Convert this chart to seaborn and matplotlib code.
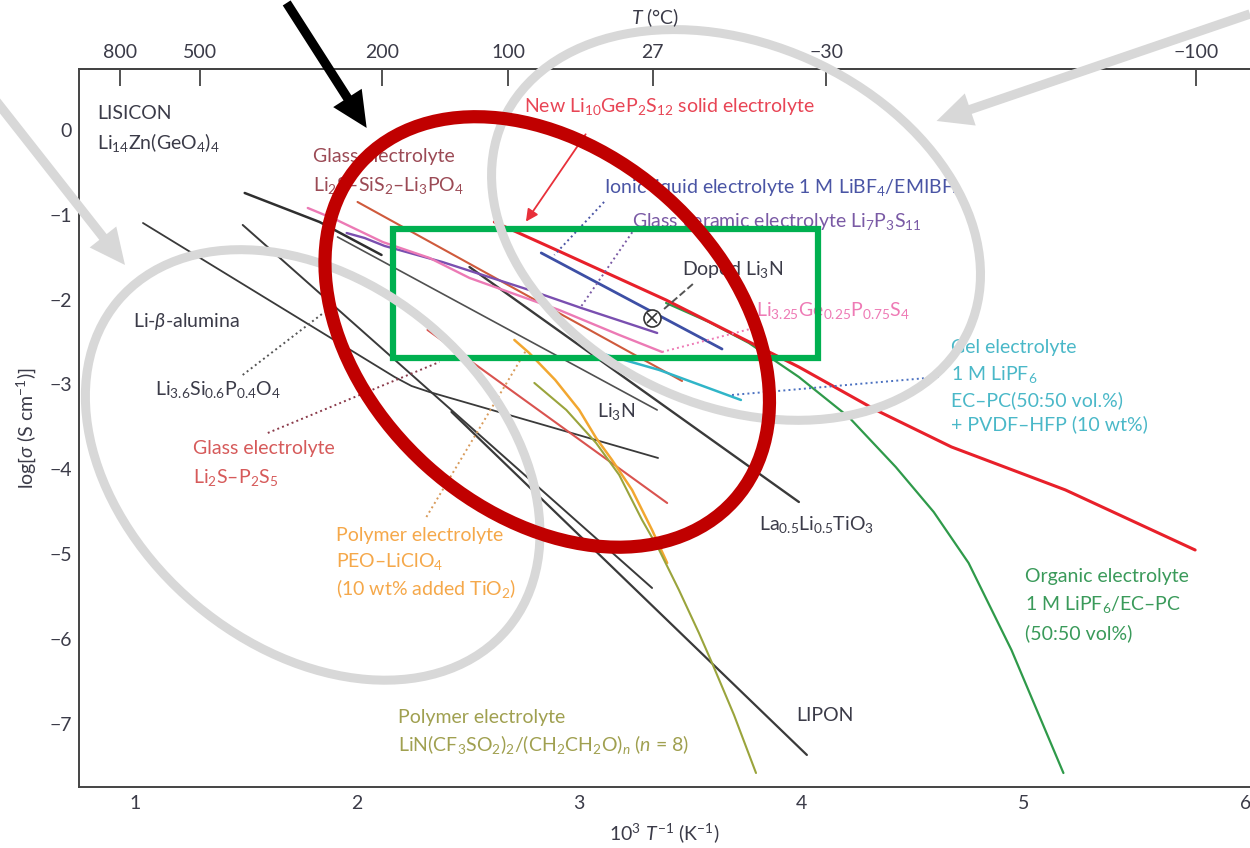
import numpy as np
import pandas as pd
import seaborn as sns
import matplotlib
matplotlib.use("Agg")
import matplotlib.pyplot as plt
from matplotlib import patches, transforms

# ---- Conductivity data: x = 1000/T (K^-1), y = log10(sigma / S cm^-1) ----
lisicon_x = [1.494, 1.831, 2.110]
lisicon_y = [-0.743, -1.085, -1.474]

beta_alumina_x = [1.036, 2.169, 2.245, 2.326, 3.355]
beta_alumina_y = [-1.097, -2.913, -3.019, -3.090, -3.868]

lisipo_x = [1.485, 3.328]
lisipo_y = [-1.120, -5.401]

li3n_x = [1.912, 3.351]
li3n_y = [-1.262, -3.302]

llto_x = [2.506, 3.989]
llto_y = [-1.616, -4.387]

lipon_x = [2.425, 4.025]
lipon_y = [-3.325, -7.370]

glass_sis_x = [2.002, 3.463]
glass_sis_y = [-0.849, -2.960]

glass_ps_x = [2.317, 3.396]
glass_ps_y = [-2.358, -4.399]

peo_x = [2.708, 2.775, 2.892, 3.000, 3.076, 3.148, 3.238, 3.328, 3.396]
peo_y = [-2.476, -2.630, -2.948, -3.302, -3.632, -3.892, -4.245, -4.717, -5.106]

litfsi_x = [2.798, 2.942, 3.076, 3.180, 3.283, 3.360, 3.449, 3.539, 3.598, 3.697, 3.796]
litfsi_y = [-2.983, -3.302, -3.691, -4.068, -4.599, -4.953, -5.425, -5.932, -6.285, -6.899, -7.583]

organic_x = [3.391, 3.584, 3.764, 3.989, 4.213, 4.425, 4.596, 4.753, 4.946, 5.180]
organic_y = [-2.040, -2.264, -2.512, -2.913, -3.384, -3.974, -4.505, -5.106, -6.132, -7.583]

lgps_x = [2.618, 2.897, 3.391, 3.989, 4.335, 4.676, 5.189, 5.773]
lgps_y = [-1.085, -1.415, -2.005, -2.795, -3.302, -3.738, -4.245, -4.953]

ionic_x = [2.829, 3.643]
ionic_y = [-1.450, -2.583]

li7p3s11_x = [1.953, 2.034, 2.124, 2.384, 2.775, 3.009, 3.351]
li7p3s11_y = [-1.215, -1.274, -1.368, -1.557, -1.887, -2.099, -2.394]

thio_x = [1.778, 1.908, 2.115, 2.326, 2.506, 2.910, 3.180, 3.373]
thio_y = [-0.920, -1.061, -1.321, -1.509, -1.745, -2.123, -2.417, -2.618]

gel_x = [3.045, 3.360, 3.728]
gel_y = [-2.594, -2.830, -3.184]

doped_li3n_x = [3.328]
doped_li3n_y = [-2.217]

temp_ticks_c = [800, 500, 200, 100, 27, -30, -100]
x_ticks = [1, 2, 3, 4, 5, 6]
y_ticks = [0, -1, -2, -3, -4, -5, -6, -7]

# ---- style ----
sns.set_theme(style="white")
plt.rcParams["font.family"] = ["Lato", "DejaVu Sans"]
plt.rcParams["mathtext.fontset"] = "custom"
plt.rcParams["mathtext.rm"] = "Lato"
plt.rcParams["mathtext.it"] = "Lato:italic"
plt.rcParams["mathtext.bf"] = "Lato:bold"
plt.rcParams["axes.unicode_minus"] = True

DARK = "#3b3b48"
BLACK_LINE = "#3a3a3a"

fig = plt.figure(figsize=(12.5, 8.48), dpi=100)
ax = fig.add_axes([79 / 1250, 1 - 787 / 848, 1 - 79 / 1250, (787 - 69) / 848])
ax.set_xlim(0.748, 6.02)
ax.set_ylim(-7.748, 0.719)

series = [
    ("LISICON", lisicon_x, lisicon_y, "#2f2f2f", 1.8),
    ("Li-beta-alumina", beta_alumina_x, beta_alumina_y, BLACK_LINE, 1.3),
    ("Li3.6Si0.6P0.4O4", lisipo_x, lisipo_y, BLACK_LINE, 1.4),
    ("Li3N", li3n_x, li3n_y, "#505050", 1.2),
    ("LLTO", llto_x, llto_y, BLACK_LINE, 1.7),
    ("LIPON", lipon_x, lipon_y, BLACK_LINE, 1.6),
    ("Li2S-SiS2-Li3PO4", glass_sis_x, glass_sis_y, "#cf5a3c", 1.5),
    ("Li2S-P2S5", glass_ps_x, glass_ps_y, "#d9534f", 1.5),
    ("PEO-LiClO4", peo_x, peo_y, "#f2a730", 1.8),
    ("LiTFSI-PEO", litfsi_x, litfsi_y, "#9aa43c", 1.5),
    ("Organic", organic_x, organic_y, "#2f9a4a", 1.6),
    ("Li10GeP2S12", lgps_x, lgps_y, "#e8202a", 2.2),
    ("Ionic liquid", ionic_x, ionic_y, "#3d4fa5", 2.0),
    ("Li7P3S11", li7p3s11_x, li7p3s11_y, "#7a4fb0", 1.7),
    ("Li3.25Ge0.25P0.75S4", thio_x, thio_y, "#ec7ab5", 1.7),
    ("Gel", gel_x, gel_y, "#30b5c8", 1.8),
]
for name, xs, ys, col, lw in series:
    df = pd.DataFrame({"x": xs, "y": ys})
    sns.lineplot(data=df, x="x", y="y", ax=ax, color=col, lw=lw,
                 sort=False, estimator=None, zorder=3)

sns.scatterplot(x=doped_li3n_x, y=doped_li3n_y, ax=ax, marker="o", s=150,
                facecolor="white", edgecolor="#333333", linewidth=1.2, zorder=4)
ax.plot(doped_li3n_x, doped_li3n_y, marker="x", ms=7, mew=1.2, color="#333333", zorder=5)

# ---- axes styling ----
for side in ["left", "bottom", "top"]:
    ax.spines[side].set_color("#444444")
    ax.spines[side].set_linewidth(1.4)
ax.spines["right"].set_visible(False)
ax.set_xticks(x_ticks)
ax.set_yticks(y_ticks)
ax.tick_params(axis="both", direction="in", length=12, width=1.3,
               colors="#444444", labelsize=14, labelcolor=DARK)
ax.tick_params(axis="x", pad=6)
ax.tick_params(axis="y", pad=5)
ax.set_xlabel(r"10$^3$ $\mathit{T}^{-1}$ (K$^{-1}$)", fontsize=14, color=DARK, labelpad=6)
ax.set_ylabel(r"log[$\sigma$ (S cm$^{-1}$)]", fontsize=14, color=DARK, labelpad=8)


def inv_to_c(x):
    x = np.asarray(x, dtype=float)
    with np.errstate(divide="ignore", invalid="ignore"):
        return 1000.0 / x - 273.15


def c_to_inv(t):
    t = np.asarray(t, dtype=float)
    with np.errstate(divide="ignore", invalid="ignore"):
        return 1000.0 / (t + 273.15)


top = ax.secondary_xaxis("top", functions=(inv_to_c, c_to_inv))
top.set_xticks(temp_ticks_c)
top.set_xticklabels([f"{t:d}".replace("-", "\u2212") for t in temp_ticks_c])
top.tick_params(direction="in", length=12, width=1.3, colors="#444444",
                labelsize=14, labelcolor=DARK, pad=6)
top.spines["top"].set_color("#444444")
top.spines["top"].set_linewidth(1.4)
# temperature axis title, centred above the top tick labels
fig.text(655 / 1250, 1 - 18 / 848, r"$\mathit{T}$ (°C)", fontsize=14, color=DARK,
         ha="center", va="center")

# ---- labels ----
FS = 14
def label(x, y, s, color=DARK, **kw):
    ax.text(x, y, s, color=color, fontsize=FS, ha="left", va="center", zorder=4, **kw)

label(0.829, 0.189, "LISICON")
label(0.829, -0.153, r"Li$_{14}$Zn(GeO$_4$)$_4$")
label(1.800, -0.318, "Glass electrolyte", color="#9b4a55")
label(1.800, -0.660, r"Li$_2$S–SiS$_2$–Li$_3$PO$_4$", color="#9b4a55")
label(2.753, 0.271, r"New Li$_{10}$GeP$_2$S$_{12}$ solid electrolyte", color="#e84555")
label(3.112, -0.684, r"Ionic liquid electrolyte 1 M LiBF$_4$/EMIBF$_4$", color="#4a55a5")
label(3.238, -1.085, r"Glass ceramic electrolyte Li$_7$P$_3$S$_{11}$", color="#7a5aa5")
label(3.463, -1.651, r"Doped Li$_3$N")
label(3.796, -2.123, r"Li$_{3.25}$Ge$_{0.25}$P$_{0.75}$S$_4$", color="#ee7ab5")
label(4.672, -2.571, "Gel electrolyte", color="#4ab8c8")
label(4.672, -2.889, r"1 M LiPF$_6$", color="#4ab8c8")
label(4.672, -3.184, "EC–PC(50:50 vol.%)", color="#4ab8c8")
label(4.672, -3.467, "+ PVDF–HFP (10 wt%)", color="#4ab8c8")
label(0.991, -2.264, r"Li-$\beta$-alumina")
label(1.090, -3.066, r"Li$_{3.6}$Si$_{0.6}$P$_{0.4}$O$_4$")
label(1.261, -3.762, "Glass electrolyte", color="#d65a5a")
label(1.261, -4.104, r"Li$_2$S–P$_2$S$_5$", color="#d65a5a")
label(3.081, -3.325, r"Li$_3$N")
label(3.809, -4.658, r"La$_{0.5}$Li$_{0.5}$TiO$_3$")
label(1.903, -4.788, "Polymer electrolyte", color="#f5a84a")
label(1.903, -5.094, r"PEO–LiClO$_4$", color="#f5a84a")
label(1.903, -5.413, r"(10 wt% added TiO$_2$)", color="#f5a84a")
label(5.009, -5.271, "Organic electrolyte", color="#3a9a5a")
label(5.009, -5.590, r"1 M LiPF$_6$/EC–PC", color="#3a9a5a")
label(5.009, -5.932, "(50:50 vol%)", color="#3a9a5a")
label(2.182, -6.934, "Polymer electrolyte", color="#a0a050")
label(2.182, -7.241, r"LiN(CF$_3$SO$_2$)$_2$/(CH$_2$CH$_2$O)$_n$ ($n$ = 8)", color="#a0a050")
label(3.975, -6.899, "LIPON")

# ---- leader lines ----
leaders = [
    ((3.112, -0.849), (2.888, -1.474), "#4a55a5", ":"),
    ((3.252, -1.156), (3.004, -2.099), "#7a5aa5", ":"),
    ((3.382, -2.111), (3.512, -1.816), "#555555", "--"),
    ((3.373, -2.618), (3.787, -2.335), "#ee7ab5", ":"),
    ((3.688, -3.125), (4.618, -2.913), "#4a70c0", ":"),
    ((2.312, -4.564), (2.762, -2.594), "#d89a5a", ":"),
    ((1.485, -2.889), (1.854, -2.146), "#555555", ":"),
    ((1.598, -3.573), (2.371, -2.736), "#8a3a4a", ":"),
]
for (x0, y0), (x1, y1), col, ls in leaders:
    ax.plot([x0, x1], [y0, y1], color=col, lw=1.4, ls=ls, zorder=3)

ax.annotate("", xy=(2.753, -1.108), xytext=(3.036, -0.024),
            arrowprops=dict(arrowstyle="-|>", color="#e8303a", lw=1.3,
                            mutation_scale=18), zorder=4)

# ---- highlight overlays (drawn in an equal-aspect frame) ----
r = (222.5 / 84.8)
sq = transforms.Affine2D().scale(1 / r, 1) + ax.transData


def ellipse(cx, cy, w, h, ang, col, lw, z):
    e = patches.Ellipse((cx * r, cy), w, h, angle=ang, fill=False,
                        edgecolor=col, lw=lw, transform=sq, zorder=z, clip_on=False)
    ax.add_patch(e)


def arrow(x0, y0, x1, y1, col, z):
    a = patches.FancyArrow(x0 * r, y0, (x1 - x0) * r, y1 - y0, width=0.11,
                           head_width=0.40, head_length=0.42,
                           length_includes_head=True, color=col, lw=0,
                           transform=sq, zorder=z, clip_on=False)
    ax.add_patch(a)


ax.add_patch(patches.Rectangle((2.160, -2.689), 4.074 - 2.160, -1.167 + 2.689,
                               fill=False, edgecolor="#00b050", lw=4.5,
                               joinstyle="miter", zorder=6))
ellipse(1.800, -3.950, 6.01, 4.30, -40, "#d8d8d8", 6.5, 7)
ellipse(3.706, -1.120, 6.03, 4.27, -24, "#d8d8d8", 6.5, 7)
arrow(0.371, 0.354, 0.955, -1.592, "#d8d8d8", 7)
arrow(6.020, 1.368, 4.609, 0.106, "#d8d8d8", 7)
ellipse(2.856, -2.382, 5.94, 4.25, -42, "#c00000", 9.5, 8)
arrow(1.683, 1.498, 2.043, 0.024, "#000000", 9)

fig.savefig("out.png", dpi=100)
